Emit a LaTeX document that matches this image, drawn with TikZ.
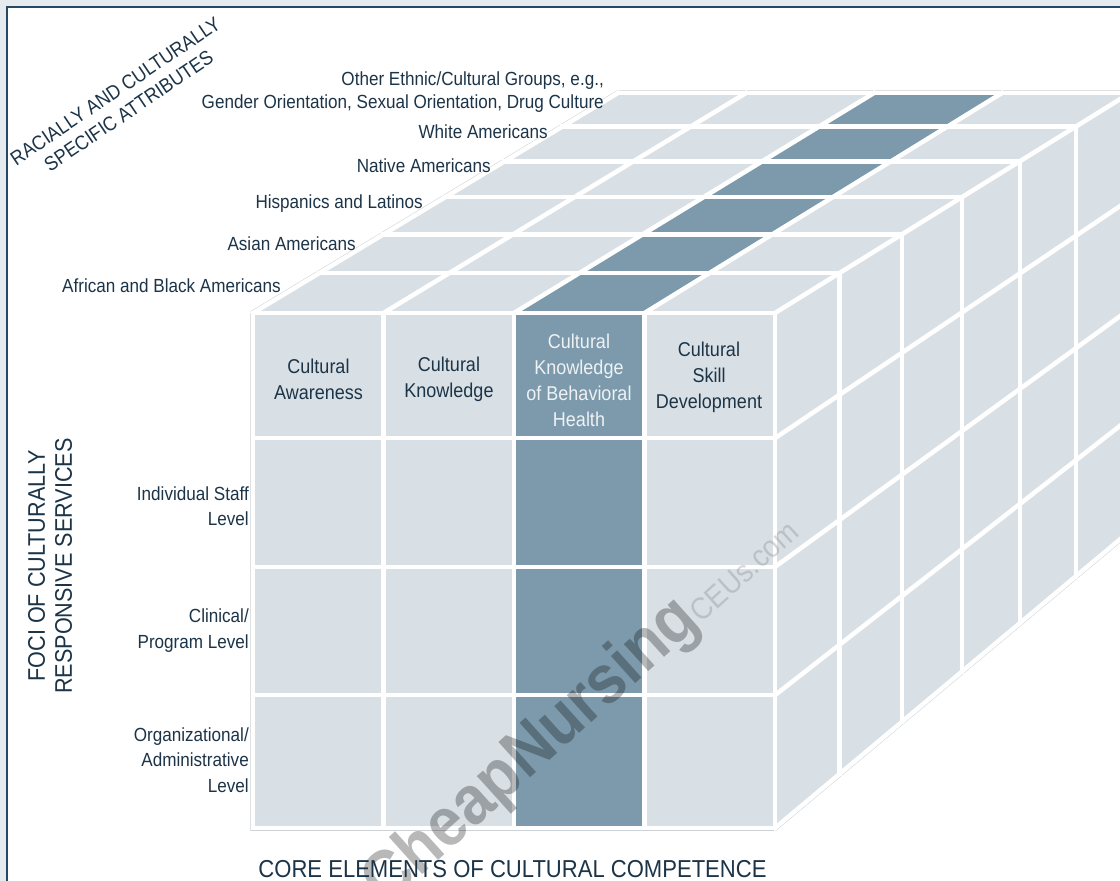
\documentclass[tikz,border=0pt]{standalone}
\usepackage{fontspec}
\setmainfont{Liberation Sans}[FakeStretch=0.9]
\usetikzlibrary{calc}
\definecolor{bgframe}{RGB}{228,234,238}
\definecolor{framec}{RGB}{38,72,98}
\definecolor{cellL}{RGB}{217,224,229}
\definecolor{cellD}{RGB}{124,154,172}
\definecolor{txt}{RGB}{28,52,72}
\definecolor{txtD}{RGB}{238,242,245}
\definecolor{edgec}{RGB}{205,210,214}
\begin{document}
\begin{tikzpicture}[x=1pt,y=-1pt,
  gridl/.style={white, line width=4.5pt, line cap=rect},
  lbl/.style={text=txt, inner sep=0pt, font=\fontsize{19}{25.5}\selectfont},
  celltext/.style={text=txt, inner sep=0pt, align=center, font=\fontsize{20}{26}\selectfont},
  axistitle/.style={text=txt, inner sep=0pt, align=center, font=\fontsize{24}{27}\selectfont}]
\useasboundingbox (0,0) rectangle (1120,881);
\clip (0,0) rectangle (1120,881);
\fill[bgframe] (0,0) rectangle (1120,881);
\fill[white] (7,7) rectangle (1130,890);
\draw[framec, line width=2pt] (7,890) -- (7,7) -- (1130,7);
% cube geometry
\foreach \k/\f in {0/0,1/0.1818,2/0.3571,3/0.5263,4/0.6897,5/0.8475,6/1}{
  \coordinate (TL\k) at ({253+365*\f},{313-220*\f});
  \coordinate (TR\k) at ({775+355*\f},{313-220*\f});
  \coordinate (BR\k) at ({775+355*\f},{828-297*\f});
}
\coordinate (FBL) at (253,828);
% faint outline
\draw[edgec, line width=5.5pt, line join=miter] (TL0) -- (TL6) -- (TR6) -- (BR6) -- (BR0) -- (FBL) -- cycle;
% faces
\fill[cellL] (TL0) -- (TL6) -- (TR6) -- (TR0) -- cycle;
\fill[cellL] (TR0) -- (TR6) -- (BR6) -- (BR0) -- cycle;
\fill[cellL] (TL0) rectangle (BR0);
\fill[cellD] ($(TL0)!.5!(TR0)$) -- ($(TL0)!.75!(TR0)$) -- ($(TL6)!.75!(TR6)$) -- ($(TL6)!.5!(TR6)$) -- cycle;
\fill[cellD] ($(TL0)!.5!(TR0)$) rectangle ($(FBL)!.75!(BR0)$);
% white grid
\foreach \k in {0,...,6} \draw[gridl] (TL\k) -- (TR\k) -- (BR\k);
\foreach \c in {0,0.25,0.5,0.75,1} {
  \draw[gridl] ($(TL0)!\c!(TR0)$) -- ($(TL6)!\c!(TR6)$);
  \draw[gridl] ($(TL0)!\c!(TR0)$) -- ($(FBL)!\c!(BR0)$);
}
\foreach \r in {0.243,0.493,0.742,1} {
  \draw[gridl] ($(TR0)!\r!(BR0)$) -- ($(TR6)!\r!(BR6)$);
  \draw[gridl] ($(TL0)!\r!(FBL)$) -- ($(TR0)!\r!(BR0)$);
}
% watermark
\node[anchor=base west, rotate=42, inner sep=0pt, text=black, opacity=0.28] (wm) at (386,908)
  {\fontsize{69}{69}\selectfont\bfseries CheapNursing\mdseries\fontsize{31}{31}\selectfont\color{black!55}CEUs.com};
% column headers
\node[celltext] (h1) at (318.5,379) {Cultural\\Awareness};
\node[celltext] (h2) at (449,379) {Cultural\\Knowledge};
\node[celltext, text=txtD] (h3) at (579,380) {Cultural\\Knowledge\\of Behavioral\\Health};
\node[celltext] (h4) at (709,377) {Cultural\\Skill\\Development};
% row labels
\node[lbl, anchor=east, align=right] (r1) at (249,506) {Individual Staff\\Level};
\node[lbl, anchor=east, align=right] (r2) at (249,630.5) {Clinical/\\Program Level};
\node[lbl, anchor=east, align=right] (r3) at (249,760) {Organizational/\\Administrative\\Level};
% ethnic groups
\node[lbl, anchor=east, align=right, font=\fontsize{19}{23}\selectfont] (g6) at (604,92) {Other Ethnic/Cultural Groups, e.g.,\\Gender Orientation, Sexual Orientation, Drug Culture};
\node[lbl, anchor=east] (g5) at (548,132) {White Americans};
\node[lbl, anchor=east] (g4) at (491,166) {Native Americans};
\node[lbl, anchor=east] (g3) at (423,204) {Hispanics and Latinos};
\node[lbl, anchor=east] (g2) at (356,244) {Asian Americans};
\node[lbl, anchor=east] (g1) at (281,286) {African and Black Americans};
% axis titles
\node[axistitle, font=\fontsize{24.5}{27}\selectfont] (ax1) at (512.5,869) {CORE ELEMENTS OF CULTURAL COMPETENCE};
\node[axistitle, rotate=90] (ax2) at (50,566) {FOCI OF CULTURALLY\\RESPONSIVE SERVICES};
\node[axistitle, rotate=34, font=\fontsize{20}{24}\selectfont] (ax3) at (122,101) {RACIALLY AND CULTURALLY\\SPECIFIC ATTRIBUTES};
\end{tikzpicture}
\end{document}
